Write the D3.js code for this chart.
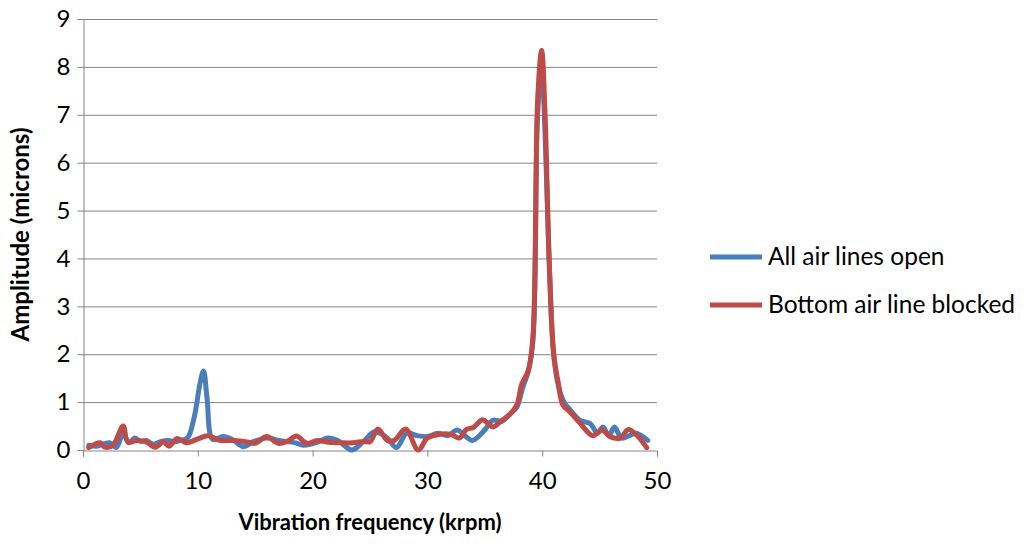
<!DOCTYPE html>
<html>
<head>
<meta charset="utf-8">
<script src="https://cdn.jsdelivr.net/npm/d3@7"></script>
<style>
  body { margin: 0; background: #fff; }
  text { font-family: Lato, "Open Sans", sans-serif; fill: #000; }
</style>
</head>
<body>
<script>
// chart data
var openFreq = [0.5, 1.2, 1.8, 2.3, 2.9, 3.5, 4.0, 4.5, 5.0, 5.5, 6.1, 6.7, 7.4, 8.0, 8.5, 9.1, 9.7, 10.2, 10.5, 10.8,
                11.3, 12.2, 13.0, 14.0, 14.8, 16.0, 17.1, 18.5, 19.2, 20.5, 21.3, 22.2, 23.4, 24.4, 25.4, 26.5, 27.3, 28.2, 29.1, 30.0,
                30.9, 31.8, 32.6, 33.9, 35.0, 35.7, 36.5, 37.2, 37.8, 38.3, 38.8, 39.2, 39.6, 39.95, 40.25, 40.6, 41.0, 41.4, 41.9, 42.4,
                43.3, 44.2, 44.8, 45.3, 45.8, 46.3, 46.9, 47.6, 48.2, 49.2];
var openAmp  = [0.1, 0.08, 0.12, 0.15, 0.05, 0.35, 0.15, 0.25, 0.18, 0.2, 0.12, 0.17, 0.2, 0.17, 0.2, 0.25, 0.7, 1.4, 1.65, 1.1,
                0.22, 0.28, 0.22, 0.07, 0.17, 0.25, 0.2, 0.15, 0.1, 0.17, 0.25, 0.2, 0.0, 0.17, 0.38, 0.25, 0.05, 0.35, 0.3, 0.28,
                0.35, 0.3, 0.42, 0.2, 0.42, 0.62, 0.6, 0.75, 0.9, 1.3, 1.65, 2.3, 7.0, 8.0, 6.6, 4.0, 2.0, 1.35, 1.0, 0.85,
                0.62, 0.55, 0.35, 0.48, 0.3, 0.48, 0.25, 0.3, 0.35, 0.2];

var blockedFreq = [0.5, 1.5, 1.9, 2.6, 3.5, 3.9, 4.7, 5.5, 6.3, 7.0, 7.5, 8.2, 9.0, 9.9, 10.9, 11.9, 13.1, 14.3, 15.0, 16.0,
                   17.0, 17.7, 18.6, 19.5, 20.4, 21.4, 22.5, 23.5, 24.5, 25.0, 25.7, 26.5, 27.1, 28.1, 29.2, 30.0, 31.1, 32.0, 32.8, 33.4,
                   34.0, 34.8, 35.3, 35.7, 36.5, 37.2, 37.8, 38.2, 38.8, 39.2, 39.6, 39.95, 40.25, 40.6, 41.0, 41.4, 41.8, 42.4, 43.3, 44.4,
                   45.2, 45.9, 46.8, 47.5, 48.2, 49.1];
var blockedAmp  = [0.05, 0.15, 0.06, 0.1, 0.5, 0.17, 0.2, 0.17, 0.06, 0.17, 0.08, 0.24, 0.15, 0.22, 0.3, 0.2, 0.2, 0.17, 0.14, 0.28,
                   0.14, 0.17, 0.29, 0.14, 0.2, 0.16, 0.15, 0.15, 0.18, 0.17, 0.44, 0.2, 0.2, 0.44, 0.0, 0.25, 0.33, 0.33, 0.25, 0.43,
                   0.47, 0.63, 0.55, 0.48, 0.62, 0.75, 0.95, 1.36, 1.67, 2.4, 7.3, 8.35, 7.0, 4.0, 2.0, 1.4, 0.94, 0.8, 0.56, 0.3,
                   0.42, 0.28, 0.25, 0.43, 0.32, 0.05];

var seriesNames = ["All air lines open", "Bottom air line blocked"];
var seriesColors = ["#4a7ebb", "#be4b48"];
var xTicks = [0, 10, 20, 30, 40, 50];
var yTicks = [0, 1, 2, 3, 4, 5, 6, 7, 8, 9];

var width = 1028, height = 544;
var margin = {top: 19, left: 83, right: 371, bottom: 94};
var fontSize = "24px";

var svg = d3.select("body")
            .append("svg")
            .attr("width", width)
            .attr("height", height);

var x = d3.scaleLinear()
          .domain([0, 50])
          .range([margin.left, width - margin.right]);

var y = d3.scaleLinear()
          .domain([0, 9])
          .range([height - margin.bottom, margin.top]);

// gridlines
svg.append("g")
   .selectAll("line")
   .data(yTicks.slice(1))
   .enter().append("line")
   .attr("x1", x(0))
   .attr("x2", x(50))
   .attr("y1", function(d) { return y(d) + 0.5; })
   .attr("y2", function(d) { return y(d) + 0.5; })
   .style("stroke", "#868686")
   .style("stroke-width", 1);

// axes
var yAxis = svg.append("g")
   .attr("transform", "translate(" + (x(0) + 0.5) + ",0)")
   .call(d3.axisLeft(y).tickValues(yTicks).tickSize(6).tickPadding(7).tickFormat(d3.format("d")));

var xAxis = svg.append("g")
   .attr("transform", "translate(0," + (y(0) + 0.5) + ")")
   .call(d3.axisBottom(x).tickValues(xTicks).tickSize(6).tickPadding(15).tickFormat(d3.format("d")));

[xAxis, yAxis].forEach(function(a) {
  a.select(".domain").style("stroke", "#868686");
  a.selectAll(".tick line").style("stroke", "#868686");
  a.selectAll(".tick text")
   .style("font-family", "Lato, sans-serif")
   .style("font-size", fontSize)
   .style("fill", "#000");
});

// lines
var line = d3.line()
             .x(function(d) { return x(d[0]); })
             .y(function(d) { return y(d[1]); })
             .curve(d3.curveCatmullRom);

var series = [d3.zip(openFreq, openAmp), d3.zip(blockedFreq, blockedAmp)];

svg.append("g")
   .selectAll("path")
   .data(series)
   .enter().append("path")
   .attr("d", line)
   .style("fill", "none")
   .style("stroke", function(d, i) { return seriesColors[i]; })
   .style("stroke-width", 5)
   .style("stroke-linejoin", "round")
   .style("stroke-linecap", "round");

// axis titles
svg.append("text")
   .attr("x", (x(0) + x(50)) / 2)
   .attr("y", 530)
   .style("text-anchor", "middle")
   .style("font-size", "22px")
   .style("font-weight", "bold")
   .text("Vibration frequency (krpm)");

svg.append("text")
   .attr("transform", "translate(29," + ((y(0) + y(9)) / 2) + ") rotate(-90)")
   .style("text-anchor", "middle")
   .style("font-size", fontSize)
   .style("font-weight", "bold")
   .text("Amplitude (microns)");

// legend
var legend = svg.append("g")
   .selectAll("g")
   .data(seriesNames)
   .enter().append("g")
   .attr("transform", function(d, i) { return "translate(710," + (257 + i * 48) + ")"; });

legend.append("line")
   .attr("x1", 0)
   .attr("x2", 52)
   .style("stroke", function(d, i) { return seriesColors[i]; })
   .style("stroke-width", 5);

legend.append("text")
   .attr("x", 58)
   .attr("y", 8)
   .style("font-size", "24.5px")
   .text(function(d) { return d; });
</script>
</body>
</html>
